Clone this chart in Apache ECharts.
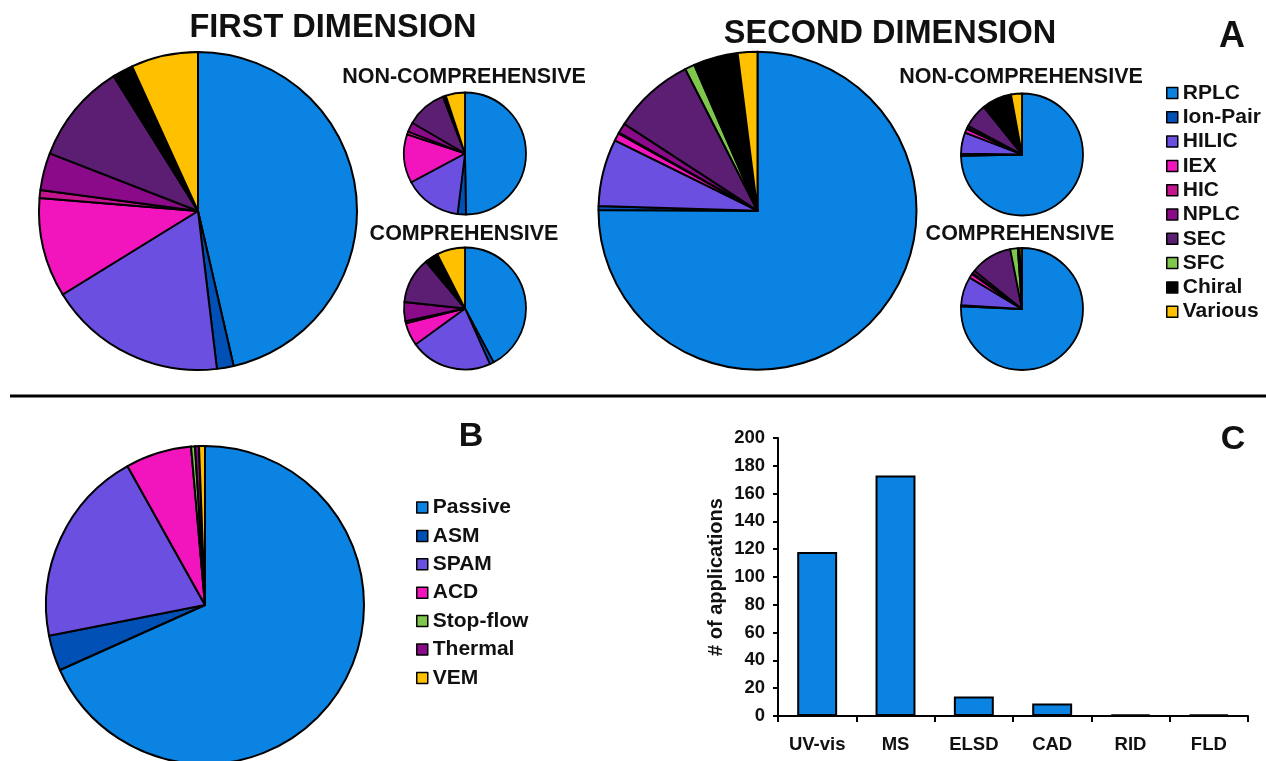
<!DOCTYPE html>
<html>
<head>
<meta charset="utf-8">
<title>2D-LC separation modes, modulation and detection</title>
<script src="https://cdn.jsdelivr.net/npm/echarts@6/dist/echarts.min.js"></script>
<style>
  html, body { margin: 0; padding: 0; background: #fff; }
  #chart { width: 1266px; height: 761px; }
</style>
</head>
<body>
<div id="chart"></div>
<script>
// Separation modes (panel A), share of applications in %
const separationModes = ['RPLC', 'Ion-Pair', 'HILIC', 'IEX', 'HIC', 'NPLC', 'SEC', 'SFC', 'Chiral', 'Various'];
const firstDimAll     = [46.4, 1.7, 18.1, 10.1, 0.8, 3.8, 10.2, 0.2, 1.9, 6.8];
const firstDimNonComp = [49.7, 2.2, 15.2, 12.9, 0.8, 2.5, 10.7, 0.0, 0.8, 5.1];
const firstDimComp    = [42.2, 1.1, 21.7, 6.1, 0.6, 5.0, 12.2, 0.4, 3.2, 7.5];
const secondDimAll     = [75.0, 0.4, 6.8, 0.8, 0.1, 1.0, 8.3, 1.0, 4.5, 2.0];
const secondDimNonComp = [74.7, 0.6, 5.6, 1.1, 0.3, 0.6, 6.4, 0.0, 7.9, 2.9];
const secondDimComp    = [75.7, 0.3, 7.6, 1.1, 0.3, 0.8, 11.1, 2.0, 0.5, 0.6];

// Modulation strategies (panel B), %
const modulationTypes = ['Passive', 'ASM', 'SPAM', 'ACD', 'Stop-flow', 'Thermal', 'VEM'];
const modulationShare = [68.3, 3.6, 20.0, 6.7, 0.4, 0.4, 0.6];

// Detectors (panel C), number of applications
const detectors = ['UV-vis', 'MS', 'ELSD', 'CAD', 'RID', 'FLD'];
const detectorCounts = [118, 173, 14, 9, 1, 1];
const countTicks = [0, 200, 20]; // min, max, step

// Palettes
const modeColors = ['#0a83e2', '#0050b5', '#6b4fe0', '#f214bd', '#c4148e', '#8a0a8a', '#5c1e73', '#7fc74c', '#000000', '#ffc000'];
const modulationColors = ['#0a83e2', '#0050b5', '#6b4fe0', '#f214bd', '#7fc74c', '#8a0a8a', '#ffc000'];

const FONT = '"Liberation Sans", Arial, Helvetica, sans-serif';

function pieData(names, values, colors) {
  const out = [];
  names.forEach((n, i) => {
    if (values[i] > 0) out.push({ name: n, value: values[i], itemStyle: { color: colors[i] } });
  });
  return out;
}

function pieSeries(values, center, radius, names, colors, border) {
  return {
    type: 'pie',
    center: center,
    radius: radius,
    startAngle: 90,
    clockwise: true,
    minAngle: 0,
    silent: true,
    animation: false,
    label: { show: false },
    labelLine: { show: false },
    emphasis: { disabled: true },
    itemStyle: { borderColor: '#000', borderWidth: border },
    data: pieData(names, values, colors)
  };
}

function heading(text, x, y, size) {
  return {
    type: 'text', x: x, y: y, silent: true,
    style: {
      text: text, fill: '#111', fontFamily: FONT, fontWeight: 'bold',
      fontSize: size, align: 'center', verticalAlign: 'middle'
    }
  };
}

const chart = echarts.init(document.getElementById('chart'), null, { renderer: 'canvas' });

chart.setOption({
  backgroundColor: '#fff',
  animation: false,
  textStyle: { fontFamily: FONT },
  graphic: [
    heading('FIRST DIMENSION', 333, 28, 32.5),
    heading('SECOND DIMENSION', 890, 34, 32.5),
    heading('A', 1232, 37, 36),
    heading('NON-COMPREHENSIVE', 464, 77, 21.5),
    heading('COMPREHENSIVE', 464, 234, 21.5),
    heading('NON-COMPREHENSIVE', 1021, 77, 21.5),
    heading('COMPREHENSIVE', 1020, 234, 21.5),
    heading('B', 471, 437, 34),
    heading('C', 1233, 440, 34),
    {
      type: 'line', silent: true,
      shape: { x1: 10, y1: 396, x2: 1266, y2: 396 },
      style: { stroke: '#000', lineWidth: 3 }
    }
  ],
  legend: [
    {
      data: separationModes,
      orient: 'vertical',
      left: 1166, top: 82.5,
      padding: 0,
      itemWidth: 11, itemHeight: 11, itemGap: 3.3,
      icon: 'rect',
      selectedMode: false,
      itemStyle: { borderColor: '#000', borderWidth: 1.5 },
      textStyle: { fontFamily: FONT, fontWeight: 'bold', fontSize: 21, lineHeight: 20, color: '#111' }
    },
    {
      data: modulationTypes,
      orient: 'vertical',
      left: 416, top: 497,
      padding: 0,
      itemWidth: 11, itemHeight: 11, itemGap: 7.4,
      icon: 'rect',
      selectedMode: false,
      itemStyle: { borderColor: '#000', borderWidth: 1.5 },
      textStyle: { fontFamily: FONT, fontWeight: 'bold', fontSize: 21, lineHeight: 20, color: '#111' }
    }
  ],
  grid: { left: 778, top: 438, width: 470, height: 278, containLabel: false },
  xAxis: {
    type: 'category',
    data: detectors,
    axisLine: { lineStyle: { color: '#000', width: 2 } },
    axisTick: { show: true, alignWithLabel: false, length: 6, lineStyle: { color: '#000', width: 2 } },
    axisLabel: { color: '#111', fontFamily: FONT, fontWeight: 'bold', fontSize: 18.5, margin: 19, interval: 0 },
    splitLine: { show: false }
  },
  yAxis: {
    type: 'value',
    min: countTicks[0], max: countTicks[1], interval: countTicks[2],
    name: '# of applications',
    nameLocation: 'middle',
    nameRotate: 90,
    nameGap: 52,
    nameTextStyle: { color: '#111', fontFamily: FONT, fontWeight: 'bold', fontSize: 20 },
    axisLine: { show: true, lineStyle: { color: '#000', width: 2 } },
    axisTick: { show: true, inside: false, length: 5, lineStyle: { color: '#000', width: 2 } },
    axisLabel: { color: '#111', fontFamily: FONT, fontWeight: 'bold', fontSize: 18.5, margin: 13 },
    splitLine: { show: false }
  },
  series: [
    pieSeries(firstDimAll, [198, 211], 159, separationModes, modeColors, 2),
    pieSeries(firstDimNonComp, [465, 153.5], 61, separationModes, modeColors, 1.8),
    pieSeries(firstDimComp, [465, 308.5], 61, separationModes, modeColors, 1.8),
    pieSeries(secondDimAll, [757.5, 210.7], 159, separationModes, modeColors, 2),
    pieSeries(secondDimNonComp, [1022, 154.5], 61, separationModes, modeColors, 1.8),
    pieSeries(secondDimComp, [1022, 309], 61, separationModes, modeColors, 1.8),
    pieSeries(modulationShare, [205, 605], 159, modulationTypes, modulationColors, 2),
    {
      type: 'bar',
      data: detectorCounts,
      barWidth: '51%',
      silent: true,
      itemStyle: { color: '#0a83e2', borderColor: '#000', borderWidth: 2 },
      emphasis: { disabled: true }
    }
  ]
});
</script>
</body>
</html>
